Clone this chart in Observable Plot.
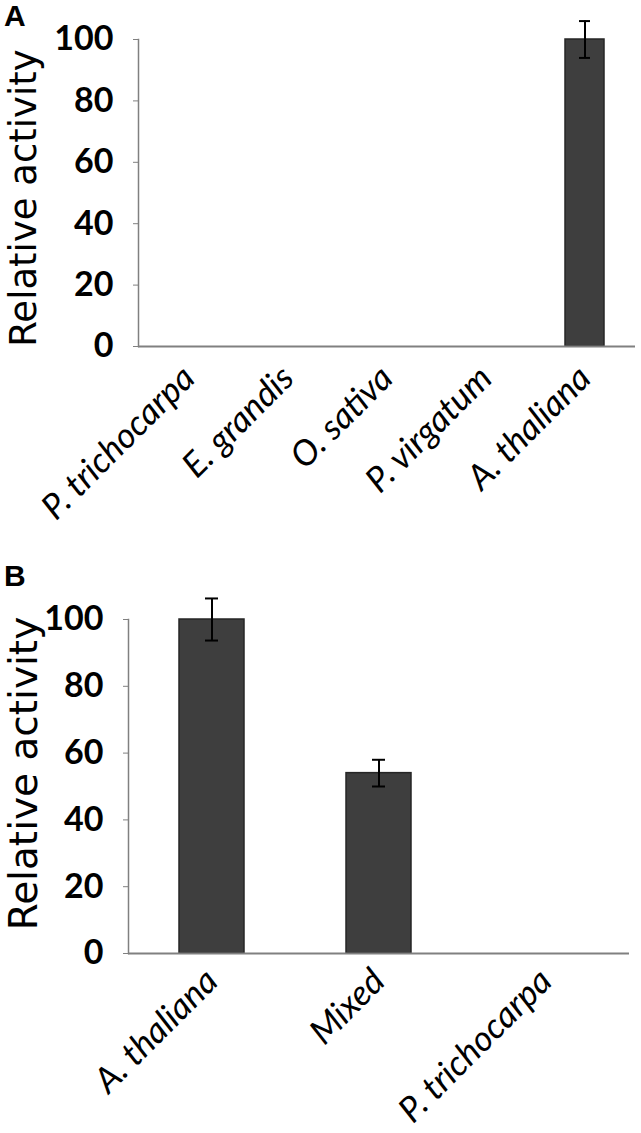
<!DOCTYPE html>
<html><head><meta charset="utf-8">
<script src="https://cdn.jsdelivr.net/npm/d3@7"></script>
<script src="https://cdn.jsdelivr.net/npm/@observablehq/plot@0.6"></script>
<style>
body{margin:0;background:#fff;}
.panel{position:relative;width:641px;}
.tag{position:absolute;left:4px;top:1px;font-family:"Liberation Sans",Arial,sans-serif;font-weight:bold;font-size:30px;line-height:1;}
svg{display:block}
</style></head><body>
<div id="a" class="panel"><div class="tag">A</div></div>
<div id="b" class="panel"><div class="tag">B</div></div>
<script>
const speciesA = ["P. trichocarpa", "E. grandis", "O. sativa", "P. virgatum", "A. thaliana"];
const activityA = [0, 0, 0, 0, 100];
const errorA = [0, 0, 0, 0, 6];

const samplesB = ["A. thaliana", "Mixed", "P. trichocarpa"];
const activityB = [100, 54, 0];
const errorB = [6.3, 4, 0];

const yTicks = [0, 20, 40, 60, 80, 100];
const yLabel = "Relative activity";

function panel({cats, vals, errs, height, marginTop, marginBottom, marginLeft, marginRight, barInset, capInset, labelDx, labelDy, labelSize, xPad}) {
  const data = cats.map((c, i) => ({c, v: vals[i], e: errs[i]}));
  const withErr = data.filter(d => d.e > 0);
  return Plot.plot({
    width: 641,
    height,
    marginTop, marginBottom, marginLeft, marginRight,
    style: {fontFamily: "Lato, sans-serif", background: "white"},
    x: {domain: cats, padding: 0},
    y: {domain: [0, 100]},
    marks: [
      Plot.barY(data.filter(d => d.v > 0), {x: "c", y: "v", fill: "#3e3e3e", stroke: "#262626", strokeWidth: 1.5, insetLeft: barInset, insetRight: barInset}),
      Plot.ruleY([0], {stroke: "#808080", strokeWidth: 2}),
      Plot.frame({anchor: "left", stroke: "#808080", strokeWidth: 1.5}),
      Plot.ruleX(withErr, {x: "c", y1: d => d.v - d.e, y2: d => d.v + d.e, stroke: "black", strokeWidth: 2}),
      Plot.tickY(withErr, {x: "c", y: d => d.v - d.e, stroke: "black", strokeWidth: 2, insetLeft: capInset, insetRight: capInset}),
      Plot.tickY(withErr, {x: "c", y: d => d.v + d.e, stroke: "black", strokeWidth: 2, insetLeft: capInset, insetRight: capInset}),
      Plot.axisY({ticks: yTicks, tickSize: 5, tickPadding: 20, stroke: "#808080", fill: "black", fontSize: 34, fontWeight: "bold", label: null}),
      Plot.axisX({tickSize: 0, tickRotate: -45, tickPadding: xPad, fill: "black", fontSize: 35, fontStyle: "italic", label: null}),
      Plot.text([yLabel], {text: d => d, frameAnchor: "left", textAnchor: "middle", rotate: -90, dx: labelDx, dy: labelDy, fontSize: labelSize, fontFamily: "DejaVu Sans", fill: "black"})
    ]
  });
}

document.getElementById("a").appendChild(panel({
  cats: speciesA, vals: activityA, errs: errorA,
  height: 560, marginTop: 39, marginBottom: 214, marginLeft: 138, marginRight: 6,
  barInset: 30, capInset: 44, labelDx: -114, labelDy: 5, labelSize: 37, xPad: 26
}));
document.getElementById("b").appendChild(panel({
  cats: samplesB, vals: activityB, errs: errorB,
  height: 573, marginTop: 59, marginBottom: 180, marginLeft: 128, marginRight: 12,
  barInset: 51, capInset: 77, labelDx: -104, labelDy: -13, labelSize: 39, xPad: 22
}));
</script>
</body></html>
